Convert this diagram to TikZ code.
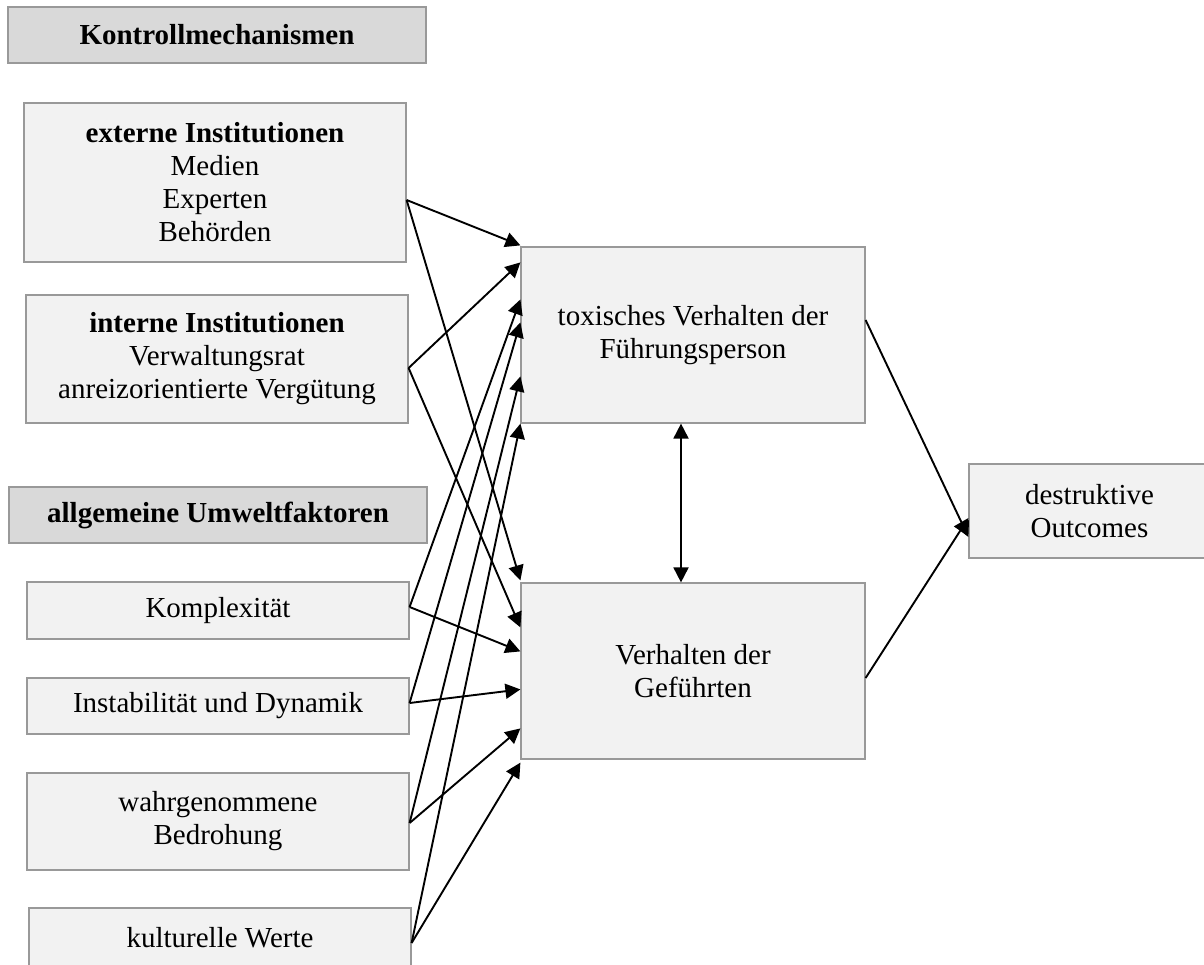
\documentclass[tikz,border=0pt]{standalone}
\usepackage{fontspec}
\setmainfont{Liberation Serif}
\usetikzlibrary{arrows.meta}
\definecolor{boxfill}{HTML}{F2F2F2}
\definecolor{headfill}{HTML}{D9D9D9}
\definecolor{boxline}{HTML}{999999}
\begin{document}
\begin{tikzpicture}[x=1pt,y=-1pt,
  box/.style={draw=boxline, fill=boxfill, line width=1.2pt, inner sep=0pt, align=center,
    font=\fontsize{29}{33}\selectfont},
  head/.style={box, fill=headfill},
  arr/.style={line width=1.9pt, -{Triangle[length=15pt,width=15pt]}},
  biarr/.style={line width=1.9pt, {Triangle[length=15pt,width=15pt]}-{Triangle[length=15pt,width=15pt]}},
]
\useasboundingbox (0,0) rectangle (1204,965);
\clip (0,0) rectangle (1204,965);

% left column
\node[head, minimum width=418pt, minimum height=56pt] (kon) at (217,35) {\textbf{Kontrollmechanismen}};
\node[box, minimum width=382pt, minimum height=159pt] (ext) at (215,182.5)
  {\textbf{externe Institutionen}\\Medien\\Experten\\Behörden};
\node[box, minimum width=382pt, minimum height=128pt] (int) at (217,359)
  {\textbf{interne Institutionen}\\Verwaltungsrat\\anreizorientierte Vergütung};
\node[head, minimum width=418pt, minimum height=56pt] (umw) at (218,515) {\textbf{allgemeine Umweltfaktoren}};
\node[box, minimum width=382pt, minimum height=57pt] (kom) at (218,610.5) {Komplexität};
\node[box, minimum width=382pt, minimum height=56pt] (ins) at (218,706) {Instabilität und Dynamik};
\node[box, minimum width=382pt, minimum height=97pt] (wah) at (218,821.5) {wahrgenommene\\Bedrohung};
\node[box, minimum width=382pt, minimum height=59pt] (kul) at (220,937.5) {kulturelle Werte};

% middle and right
\node[box, minimum width=344pt, minimum height=176pt] (tox) at (693,335) {toxisches Verhalten der\\Führungsperson};
\node[box, minimum width=344pt, minimum height=176pt] (ver) at (693,671) {Verhalten der\\Geführten};
\node[box, minimum width=241pt, minimum height=94pt] (des) at (1089.5,511) {destruktive\\Outcomes};

% arrows to toxisches Verhalten
\draw[arr] ([yshift=-17.5pt]ext.east) -- ([yshift=1pt]tox.north west);
\draw[arr] ([yshift=-9pt]int.east) -- ([yshift=-16pt]tox.north west);
\draw[arr] ([yshift=3.5pt]kom.east) -- ([yshift=-53pt]tox.north west);
\draw[arr] ([yshift=3pt]ins.east) -- ([yshift=-76pt]tox.north west);
\draw[arr] ([yshift=-1.5pt]wah.east) -- ([yshift=-130pt]tox.north west);
\draw[arr] ([yshift=-5.5pt]kul.east) -- (tox.south west);

% arrows to Verhalten der Geführten
\draw[arr] ([yshift=-17.5pt]ext.east) -- ([yshift=2pt]ver.north west);
\draw[arr] ([yshift=-9pt]int.east) -- ([yshift=-45pt]ver.north west);
\draw[arr] ([yshift=3.5pt]kom.east) -- ([yshift=-69pt]ver.north west);
\draw[arr] ([yshift=3pt]ins.east) -- ([yshift=-107pt]ver.north west);
\draw[arr] ([yshift=-1.5pt]wah.east) -- ([yshift=-146pt]ver.north west);
\draw[arr] ([yshift=-5.5pt]kul.east) -- ([yshift=-3pt]ver.south west);

% mutual and outcomes
\draw[biarr] ([xshift=-12pt]tox.south) -- ([xshift=-12pt]ver.north);
\draw[arr] ([yshift=15pt]tox.east) -- ([yshift=-26pt]des.west);
\draw[arr] ([yshift=-7pt]ver.east) -- ([yshift=-7pt]des.west);
\end{tikzpicture}
\end{document}
